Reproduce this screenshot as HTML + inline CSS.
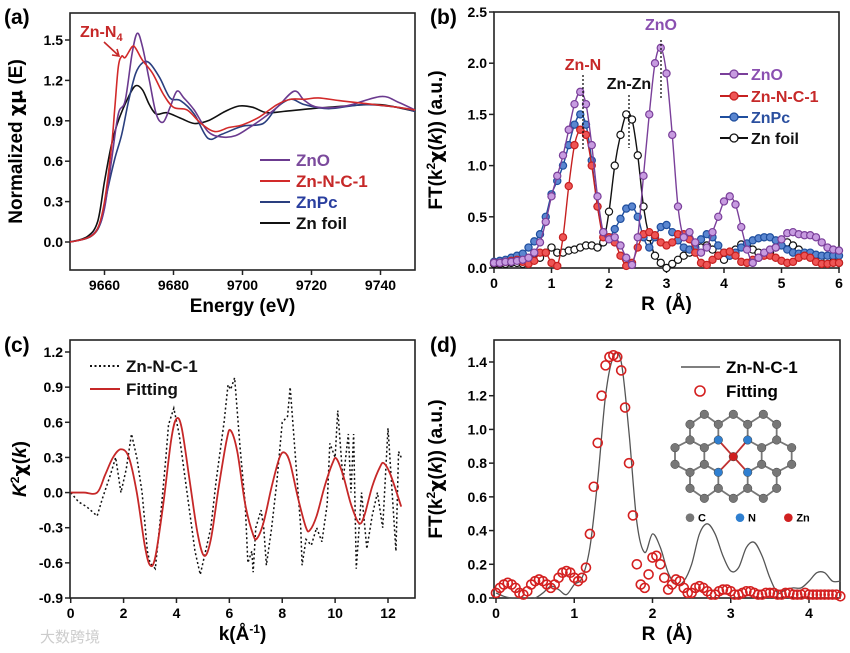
<!DOCTYPE html>
<html><head><meta charset="utf-8"><style>
html,body{margin:0;padding:0;background:#fff;}
svg{display:block;font-family:"Liberation Sans",Arial,sans-serif;}
</style></head><body>
<svg id="fig" width="850" height="653" viewBox="0 0 850 653" xmlns="http://www.w3.org/2000/svg">
<text x="4" y="24" font-size="21" font-weight="bold">(a)</text>
<text x="430" y="24" font-size="21" font-weight="bold">(b)</text>
<text x="4" y="352" font-size="21" font-weight="bold">(c)</text>
<text x="430" y="352" font-size="21" font-weight="bold">(d)</text>
<text x="40" y="642" font-size="15" fill="#ccc" font-family="'Liberation Sans','Noto Sans CJK SC',sans-serif">大数跨境</text>
<g id="layer"></g>
</svg>
<script>
// ---------- Panel a data ----------
const aZnO_E=[9650,9655,9658,9660,9662,9664,9666,9668,9669.5,9671,9673,9675,9677,9679,9681,9683,9686,9690,9694,9698,9702,9706,9710,9715,9718,9722,9730,9740,9745,9750];
const aZnO_mu=[0,0.03,0.1,0.25,0.6,0.95,1.05,1.4,1.55,1.45,1.2,0.95,0.89,1.0,1.12,1.07,0.98,0.82,0.78,0.79,0.85,0.92,1.0,1.12,1.05,1.0,1.01,1.08,1.04,0.98];
const aZnNC_E=[9650,9655,9658,9660,9662,9663,9664,9665,9666,9668,9669,9671,9674,9677,9680,9684,9688,9692,9696,9700,9705,9710,9714,9718,9722,9728,9735,9745,9750];
const aZnNC_mu=[0,0.03,0.1,0.3,0.7,1.0,1.3,1.38,1.37,1.45,1.44,1.35,1.25,1.1,1.0,0.98,0.88,0.82,0.85,0.87,0.93,1.02,1.06,1.06,1.07,1.05,1.03,1.0,0.98];
const aZnPc_E=[9650,9656,9659,9661,9663,9665,9667,9669,9671,9673,9676,9679,9682,9686,9690,9694,9700,9706,9710,9714,9718,9725,9735,9745,9750];
const aZnPc_mu=[0,0.04,0.15,0.4,0.62,0.8,1.05,1.25,1.33,1.33,1.22,1.07,1.05,0.95,0.77,0.8,0.86,0.88,1.0,1.06,1.02,0.99,1.02,1.0,0.97];
const aFoil_E=[9650,9655,9658,9660,9662,9664,9667,9669,9671,9673,9675,9678,9682,9686,9690,9695,9699,9703,9707,9712,9720,9730,9740,9750];
const aFoil_mu=[0,0.04,0.15,0.45,0.72,0.9,1.08,1.16,1.13,1.02,0.95,0.96,0.92,0.88,0.9,0.97,1.01,1.0,0.96,0.97,0.99,1.01,1.02,0.97];
const aXTicks=[9660,9680,9700,9720,9740];
const aYTicks=[0.0,0.3,0.6,0.9,1.2,1.5];
// ---------- Panel b data (R step 0.1 from 0 to 6) ----------
const bZnO=[0.05,0.05,0.06,0.06,0.07,0.08,0.1,0.15,0.25,0.45,0.7,0.9,1.1,1.35,1.6,1.72,1.6,1.2,0.7,0.35,0.28,0.3,0.22,0.1,0.03,0.3,0.9,1.5,2.0,2.15,1.9,1.3,0.6,0.3,0.35,0.25,0.15,0.2,0.35,0.5,0.65,0.7,0.62,0.4,0.18,0.05,0.1,0.15,0.18,0.2,0.28,0.34,0.35,0.33,0.32,0.32,0.3,0.25,0.2,0.18,0.17];
const bZnNC=[0.05,0.05,0.06,0.07,0.08,0.06,0.04,0.07,0.15,0.15,0.05,0.02,0.3,0.8,1.2,1.35,1.3,1.0,0.6,0.3,0.3,0.25,0.12,0.02,0.05,0.2,0.33,0.35,0.32,0.25,0.22,0.25,0.33,0.33,0.28,0.15,0.05,0.03,0.08,0.12,0.15,0.16,0.12,0.06,0.05,0.08,0.1,0.12,0.12,0.1,0.07,0.05,0.06,0.1,0.12,0.1,0.06,0.04,0.04,0.05,0.05];
const bZnPc=[0.06,0.07,0.08,0.1,0.12,0.14,0.2,0.26,0.33,0.5,0.72,0.85,1.0,1.2,1.4,1.5,1.4,1.05,0.6,0.35,0.3,0.38,0.48,0.58,0.6,0.5,0.3,0.2,0.3,0.4,0.42,0.35,0.27,0.2,0.18,0.2,0.28,0.33,0.3,0.22,0.15,0.12,0.15,0.2,0.24,0.27,0.29,0.3,0.3,0.27,0.22,0.18,0.15,0.14,0.15,0.15,0.13,0.12,0.12,0.12,0.12];
const bFoil=[0.04,0.04,0.04,0.05,0.05,0.04,0.05,0.08,0.1,0.15,0.2,0.15,0.15,0.17,0.18,0.2,0.22,0.22,0.2,0.25,0.55,1.0,1.3,1.5,1.45,1.1,0.6,0.3,0.12,0.05,0.0,0.04,0.08,0.12,0.15,0.17,0.2,0.22,0.18,0.12,0.08,0.12,0.18,0.23,0.22,0.18,0.15,0.13,0.15,0.2,0.24,0.25,0.22,0.18,0.14,0.12,0.11,0.1,0.08,0.06,0.05];
const bXTicks=[0,1,2,3,4,5,6];
const bYTicks=[0.0,0.5,1.0,1.5,2.0,2.5];
// ---------- Panel c data ----------
const cFitK=[0,0.5,1,1.3,1.6,1.9,2.2,2.5,2.8,3.0,3.2,3.5,3.8,4.0,4.2,4.5,4.8,5.05,5.3,5.6,5.9,6.05,6.3,6.6,6.9,7.05,7.3,7.6,7.9,8.1,8.3,8.6,8.9,9.05,9.3,9.6,9.9,10.05,10.3,10.6,10.9,11.1,11.4,11.7,11.85,12.1,12.5];
const cFitV=[0,0,0,0.15,0.3,0.37,0.3,0,-0.45,-0.62,-0.55,-0.1,0.45,0.63,0.55,0.1,-0.35,-0.54,-0.4,0.05,0.45,0.53,0.35,-0.1,-0.36,-0.39,-0.25,0.05,0.3,0.34,0.25,-0.05,-0.3,-0.32,-0.2,0.05,0.25,0.29,0.15,-0.1,-0.26,-0.2,0.05,0.22,0.25,0.15,-0.12];
const cDatK=[0,0.3,0.6,1.0,1.2,1.5,1.7,1.9,2.1,2.3,2.5,2.7,2.9,3.0,3.2,3.4,3.6,3.7,3.9,4.1,4.4,4.7,4.9,5.1,5.3,5.5,5.8,5.95,6.05,6.2,6.4,6.6,6.7,6.85,6.9,7.0,7.2,7.3,7.4,7.6,7.8,8.0,8.2,8.3,8.5,8.7,8.75,8.9,9.1,9.3,9.5,9.7,9.8,10.0,10.1,10.3,10.5,10.6,10.7,10.8,11.0,11.2,11.4,11.6,11.8,12.0,12.1,12.3,12.4,12.5];
const cDatV=[0,-0.08,-0.12,-0.2,-0.05,0.15,0.3,0.0,0.2,0.5,0.3,0.0,-0.5,-0.6,-0.65,-0.2,0.3,0.58,0.72,0.5,0.0,-0.5,-0.7,-0.5,-0.3,0.1,0.6,0.92,0.88,0.98,0.4,-0.1,-0.6,-0.5,-0.68,-0.3,-0.15,-0.3,-0.62,-0.3,0.1,0.6,0.65,0.9,0.3,-0.3,-0.62,-0.4,-0.45,-0.3,-0.42,-0.1,0.42,0.3,0.7,0.1,0.5,0.0,0.5,-0.65,0.0,-0.48,-0.2,0.0,-0.3,0.55,0.2,-0.5,0.35,0.3];
const cXTicks=[0,2,4,6,8,10,12];
const cYTicks=[-0.9,-0.6,-0.3,0.0,0.3,0.6,0.9,1.2];
// ---------- Panel d data ----------
const dLineR=[0,0.1,0.2,0.3,0.4,0.5,0.6,0.7,0.8,0.9,1.0,1.1,1.2,1.3,1.4,1.5,1.6,1.7,1.8,1.9,2.0,2.1,2.2,2.3,2.4,2.5,2.6,2.7,2.8,2.9,3.0,3.1,3.2,3.3,3.4,3.5,3.6,3.7,3.8,3.9,4.0,4.1,4.2,4.3,4.4];
const dLineV=[0.03,0.01,0,0,0,0,0.03,0.07,0.05,0.02,0.08,0.12,0.3,0.7,1.2,1.43,1.4,0.98,0.45,0.27,0.38,0.3,0.15,0.08,0.1,0.2,0.38,0.44,0.38,0.25,0.16,0.18,0.3,0.33,0.25,0.12,0.03,0.05,0.06,0.06,0.1,0.15,0.15,0.1,0.1];
// fitting values at R step 0.05 from 0 to 4.4
const dFitV=[0.03,0.06,0.08,0.09,0.08,0.06,0.03,0.02,0.04,0.08,0.1,0.11,0.1,0.08,0.06,0.08,0.12,0.15,0.16,0.15,0.12,0.1,0.12,0.18,0.38,0.66,0.92,1.2,1.38,1.43,1.44,1.43,1.35,1.13,0.8,0.49,0.2,0.08,0.06,0.14,0.24,0.25,0.2,0.12,0.05,0.08,0.11,0.1,0.06,0.03,0.03,0.06,0.07,0.06,0.04,0.02,0.02,0.04,0.05,0.05,0.04,0.02,0.02,0.03,0.04,0.04,0.03,0.02,0.02,0.03,0.03,0.03,0.02,0.02,0.03,0.03,0.02,0.02,0.02,0.03,0.02,0.02,0.02,0.02,0.02,0.02,0.02,0.02,0.01];
const dXTicks=[0,1,2,3,4];
const dYTicks=[0.0,0.2,0.4,0.6,0.8,1.0,1.2,1.4];

const NS="http://www.w3.org/2000/svg";
const layer=document.getElementById('layer');
function mk(tag,attrs,parent){const e=document.createElementNS(NS,tag);for(const k in attrs)e.setAttribute(k,attrs[k]);(parent||layer).appendChild(e);return e;}
function scale(d0,d1,p0,p1){return v=>p0+(v-d0)/(d1-d0)*(p1-p0);}
function smoothPath(pts){let d='M'+pts[0][0]+','+pts[0][1];for(let i=0;i<pts.length-1;i++){const p0=pts[i-1]||pts[i],p1=pts[i],p2=pts[i+1],p3=pts[i+2]||p2;const c1x=p1[0]+(p2[0]-p0[0])/6,c1y=p1[1]+(p2[1]-p0[1])/6,c2x=p2[0]-(p3[0]-p1[0])/6,c2y=p2[1]-(p3[1]-p1[1])/6;d+=` C${c1x},${c1y} ${c2x},${c2y} ${p2[0]},${p2[1]}`;}return d;}
function axes(name,L,R,T,B,xs,ys,xt,yt,fmt,xtitle,ytitle,ytx){
  const g=mk('g',{});
  
  
  const box=mk('rect',{x:L,y:T,width:R-L,height:B-T,fill:'none',stroke:'#222','stroke-width':1.6},g);
  
  
  xt.forEach(v=>{const x=xs(v);mk('line',{x1:x,x2:x,y1:B,y2:B+5,stroke:'#222','stroke-width':1.5},g);
    const t=mk('text',{x:x,y:B+20,'text-anchor':'middle','font-size':14,'font-weight':'bold'},g);t.textContent=fmt.x(v);
    
    });
  yt.forEach(v=>{const y=ys(v);mk('line',{x1:L-5,x2:L,y1:y,y2:y,stroke:'#222','stroke-width':1.5},g);
    const t=mk('text',{x:L-7,y:y+5,'text-anchor':'end','font-size':14,'font-weight':'bold'},g);t.textContent=fmt.y(v);
    
    });
  const xtl=mk('text',{x:(L+R)/2,y:B+42,'text-anchor':'middle','font-size':19,'font-weight':'bold'},g);xtl.innerHTML=xtitle;
  
  
  const ytl=mk('text',{x:0,y:0,'text-anchor':'middle','font-size':19,'font-weight':'bold',transform:`translate(${ytx},${(T+B)/2}) rotate(-90)`},g);ytl.innerHTML=ytitle;
  
  
}
function legendLine(name,x,y,color,label,textColor,dash){
  const l=mk('line',{x1:x,x2:x+30,y1:y,y2:y,stroke:color,'stroke-width':2,'stroke-dasharray':dash||'none'});
  
  
  const t=mk('text',{x:x+36,y:y+6,'font-size':17,'font-weight':'bold',fill:textColor});t.textContent=label;
  
  
}
const f1={x:v=>String(v),y:v=>v.toFixed(1)};

// ===== Panel a =====
{const L=70,R=415,T=13,B=270;const xs=scale(9650,9750,L,R),ys=scale(0,1.5,242,40);
axes('panel-a',L,R,T,B,xs,ys,aXTicks,aYTicks,f1,'Energy (eV)','Normalized <tspan font-family="DejaVu Sans">χμ</tspan> (E)',22);
const series=[['foil',aFoil_E,aFoil_mu,'#111'],['znpc',aZnPc_E,aZnPc_mu,'#2a3f7f'],['zno',aZnO_E,aZnO_mu,'#6b3a8f'],['znnc',aZnNC_E,aZnNC_mu,'#d22a2a']];
series.forEach(s=>{const p=mk('path',{d:smoothPath(s[1].map((e,i)=>[xs(e),ys(s[2][i])])),fill:'none',stroke:s[3],'stroke-width':1.6});
  
  });
const an=mk('text',{x:80,y:37,'font-size':16,'font-weight':'bold',fill:'#c62828'});an.innerHTML='Zn-N<tspan font-size="11" dy="4">4</tspan>';


const ar=mk('path',{d:'M104,42 L118,55 M112,55 L119,56 L117,49',stroke:'#c62828','stroke-width':1.6,fill:'none'});


legendLine('zno',260,160,'#6b3a8f','ZnO','#7b4a9c');
legendLine('znnc',260,181,'#d22a2a','Zn-N-C-1','#c62828');
legendLine('znpc',260,202,'#2a3f7f','ZnPc','#2a3f9f');
legendLine('foil',260,223,'#111','Zn foil','#111');
}
// ===== Panel b =====
{const L=494,R=839,T=12,B=268;const xs=scale(0,6,L,R),ys=scale(0,2.5,B,T);
axes('panel-b',L,R,T,B,xs,ys,bXTicks,bYTicks,f1,'R&#160;&#160;(Å)','FT(k<tspan font-size="12" dy="-7">2</tspan><tspan dy="7" font-family="DejaVu Sans">χ</tspan>(<tspan font-style="italic">k</tspan>)) (a.u.)',442);
const series=[['foil',bFoil,'#111','#fff'],['znpc',bZnPc,'#1f4e9e','#5a86d0'],['znnc',bZnNC,'#c62020','#ee5555'],['zno',bZnO,'#7a3f9a','#c79be0']];
series.forEach(s=>{const pts=s[1].map((v,i)=>[xs(i*0.1),ys(v)]);
  const p=mk('path',{d:smoothPath(pts),fill:'none',stroke:s[2],'stroke-width':1.4});
  
  
  pts.forEach(q=>{const c=mk('circle',{cx:q[0],cy:q[1],r:3.6,fill:s[3],stroke:s[2],'stroke-width':1.2});
    
    });});
[['zno',661,30,'ZnO','#8a4fb0',661,40,98],['zn-n',583,70,'Zn-N','#c62828',583,75,150],['zn-zn',629,89,'Zn-Zn','#111',629,95,148]].forEach(a=>{
  const t=mk('text',{x:a[1],y:a[2],'text-anchor':'middle','font-size':16,'font-weight':'bold',fill:a[4]});t.textContent=a[3];
  
  
  const l=mk('line',{x1:a[5],x2:a[5],y1:a[6],y2:a[7],stroke:'#111','stroke-width':1.3,'stroke-dasharray':'2,2'});
  
  });
[['zno',74,'#7a3f9a','#c79be0','ZnO','#8a4fb0'],['znnc',96,'#c62020','#ee5555','Zn-N-C-1','#c62828'],['znpc',117,'#1f4e9e','#5a86d0','ZnPc','#2a4f9f'],['foil',138,'#111','#fff','Zn foil','#111']].forEach(s=>{
  const l=mk('line',{x1:720,x2:748,y1:s[1],y2:s[1],stroke:s[2],'stroke-width':2});
  
  
  mk('circle',{cx:734,cy:s[1],r:4,fill:s[3],stroke:s[2],'stroke-width':1.3});
  const t=mk('text',{x:751,y:s[1]+6,'font-size':16,'font-weight':'bold',fill:s[5]});t.textContent=s[4];
  
  });
}
// ===== Panel c =====
{const L=70,R=415,T=340,B=598;const xs=scale(0,12,70.7,388),ys=scale(-0.9,1.2,B,352);
axes('panel-c',L,R,T,B,xs,ys,cXTicks,cYTicks,f1,'k(Å<tspan font-size="12" dy="-7">-1</tspan><tspan dy="7">)</tspan>','<tspan font-style="italic">K</tspan><tspan font-size="12" dy="-7">2</tspan><tspan dy="7" font-family="DejaVu Sans">χ</tspan>(<tspan font-style="italic">k</tspan>)',26);
const dp=mk('path',{d:'M'+cDatK.map((k,i)=>xs(k)+','+ys(cDatV[i])).join(' L'),fill:'none',stroke:'#111','stroke-width':1.5,'stroke-dasharray':'2,2.5'});


const fp=mk('path',{d:smoothPath(cFitK.map((k,i)=>[xs(k),ys(cFitV[i])])),fill:'none',stroke:'#c62828','stroke-width':1.8});


legendLine('panel-c-data',90,366,'#111','Zn-N-C-1','#111','2,2.5');
legendLine('panel-c-fit',90,389,'#c62828','Fitting','#111');
}
// ===== Panel d =====
{const L=494,R=840,T=340,B=598;const xs=scale(0,4,496,809),ys=scale(0,1.4,B,362);
axes('panel-d',L,R,T,B,xs,ys,dXTicks,dYTicks,f1,'R&#160;&#160;(Å)','FT(k<tspan font-size="12" dy="-7">2</tspan><tspan dy="7" font-family="DejaVu Sans">χ</tspan>(<tspan font-style="italic">k</tspan>)) (a.u.)',442);
const lp=mk('path',{d:smoothPath(dLineR.map((r,i)=>[xs(r),ys(dLineV[i])])),fill:'none',stroke:'#555','stroke-width':1.3});


dFitV.forEach((v,i)=>{const c=mk('circle',{cx:xs(i*0.05),cy:ys(v),r:4.5,fill:'none',stroke:'#d42020','stroke-width':1.6});
  
  });
const l=mk('line',{x1:681,x2:720,y1:367,y2:367,stroke:'#555','stroke-width':1.5});


let t=mk('text',{x:726,y:373,'font-size':17,'font-weight':'bold'});t.textContent='Zn-N-C-1';


mk('circle',{cx:700,cy:391,r:5,fill:'none',stroke:'#d42020','stroke-width':1.6});
t=mk('text',{x:726,y:397,'font-size':17,'font-weight':'bold'});t.textContent='Fitting';


// molecule inset (zoom coordinates /3 + offset)
const ig=mk('g',{});


const gray=[[838,268],[925,268],[1015,268],[795,298],[880,298],[968,298],[1055,298],[795,345],[1055,345],[750,368],[838,368],[1010,368],[1100,368],[750,418],[838,418],[1010,418],[1100,418],[795,442],[1055,442],[795,490],[880,490],[968,490],[1055,490],[838,520],[925,520],[1015,520]];
const nit=[[880,345],[968,345],[880,442],[968,442]];const zn=[[925,395]];
const atoms=[].concat(gray.map(p=>[p,'#777']),nit.map(p=>[p,'#2f7fd0']));
const P=p=>[p[0]/3+425,p[1]/3+325];
for(let i=0;i<atoms.length;i++)for(let j=i+1;j<atoms.length;j++){const a=P(atoms[i][0]),b=P(atoms[j][0]);const d=Math.hypot(a[0]-b[0],a[1]-b[1]);
  if(d<19.5){mk('line',{x1:a[0],y1:a[1],x2:b[0],y2:b[1],stroke:'#777','stroke-width':1.8},ig);}}
const zp=P(zn[0]);
nit.forEach(n=>{const q=P(n);mk('line',{x1:zp[0],y1:zp[1],x2:q[0],y2:q[1],stroke:'#c03030','stroke-width':1.8},ig);});
atoms.concat([[zn[0],'#d02020']]).forEach(a=>{const p=P(a[0]);mk('circle',{cx:p[0],cy:p[1],r:4.3,fill:a[1],stroke:'#444','stroke-width':0.5},ig);});
[[795,'#777','C'],[945,'#2f7fd0','N'],[1090,'#d02020','Zn']].forEach(s=>{const p=P([s[0],578]);mk('circle',{cx:p[0],cy:p[1],r:4.3,fill:s[1]},ig);
  const tt=mk('text',{x:p[0]+8,y:p[1]+4,'font-size':11,'font-weight':'bold'},ig);tt.textContent=s[2];
  
  });
}
</script>
</body></html>
